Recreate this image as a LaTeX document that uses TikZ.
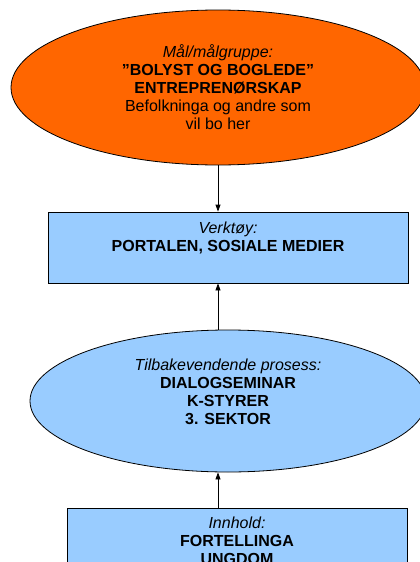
\documentclass[tikz,border=0pt]{standalone}
\usepackage{fontspec}
\setmainfont{Liberation Sans}
\usetikzlibrary{shapes.geometric,arrows.meta,positioning}
\definecolor{maalorange}{RGB}{255,102,0}
\definecolor{lysblaa}{RGB}{153,204,255}

\begin{document}
\begin{tikzpicture}[x=1pt,y=-1pt,
  every node/.style={font=\fontsize{16}{18}\selectfont, align=center, inner sep=0pt},
  oval/.style={ellipse, draw, line width=0.8pt},
  boks/.style={rectangle, draw, line width=0.8pt, fill=lysblaa},
  pil/.style={-{Triangle[length=7pt,width=5pt]}, line width=0.8pt}]
 \useasboundingbox (0,0) rectangle (420,562);
 \clip (0,0) rectangle (420,562);
 % figurene
 \node (maal) [oval, fill=maalorange, minimum width=414pt, minimum height=155pt] at (218,87.5) {};
 \node (verktoy) [boks, minimum width=360pt, minimum height=71pt] at (228,247.5) {};
 \node (prosess) [oval, fill=lysblaa, minimum width=396pt, minimum height=142pt] at (228,401) {};
 \node (innhold) [boks, minimum width=340pt, minimum height=100pt] at (237,558) {};
 % tekstene
 \node (maaltekst) at (maal) {\textit{Mål/målgruppe:}\\ \textbf{”BOLYST OG BOGLEDE”}\\ \textbf{ENTREPRENØRSKAP}\\ Befolkninga og andre som\\ vil bo her};
 \node (verktoytekst) [anchor=north, below=10.5pt of verktoy.north] {\textit{Verktøy:}\\ \textbf{PORTALEN, SOSIALE MEDIER}};
 \node (prosesstekst) at (228,392) {\textit{Tilbakevendende prosess:}\\ \textbf{DIALOGSEMINAR}\\ \textbf{K-STYRER}\\ \textbf{3. SEKTOR}};
 \node (innholdtekst) [anchor=north, below=9.5pt of innhold.north] {\textit{Innhold:}\\ \textbf{FORTELLINGA}\\ \textbf{UNGDOM}};
 % pilene
 \draw[pil] (maal.south) -- (maal.south |- verktoy.north);
 \draw[pil] (prosess.north -| maal.south) -- (maal.south |- verktoy.south);
 \draw[pil] (innhold.north -| maal.south) -- (maal.south |- prosess.south);
\end{tikzpicture}
\end{document}
